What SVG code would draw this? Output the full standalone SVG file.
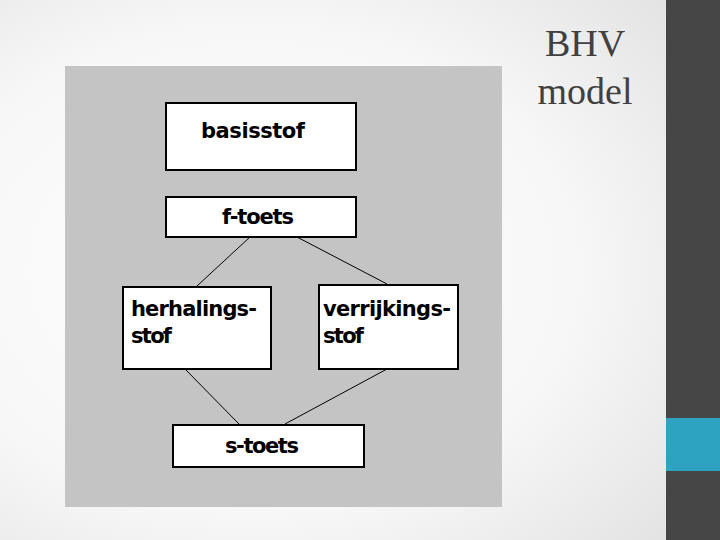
<svg xmlns="http://www.w3.org/2000/svg" width="720" height="540" viewBox="0 0 720 540">
<defs>
<radialGradient id="bg" cx="0.35" cy="0.5" r="0.75">
<stop offset="0" stop-color="#ffffff"/>
<stop offset="0.6" stop-color="#f7f7f7"/>
<stop offset="1" stop-color="#e4e4e4"/>
</radialGradient>
<style>
.box{fill:#ffffff;stroke:#000000;stroke-width:2}
.lbl{font-family:"DejaVu Sans","Liberation Sans",sans-serif;font-size:21px;font-weight:bold;fill:#000000}
.con{stroke:#000000;stroke-width:1;fill:none}
.title{font-family:"Liberation Serif",serif;font-size:38px;fill:#404040}
</style>
</defs>
<rect x="0" y="0" width="720" height="540" fill="url(#bg)"/>
<rect x="666" y="0" width="54" height="540" fill="#464646"/>
<rect x="666" y="418" width="54" height="53" fill="#2ea3c1"/>
<text class="title" x="585" y="56" text-anchor="middle">BHV</text>
<text class="title" x="585" y="104" text-anchor="middle">model</text>
<rect x="65" y="66" width="437" height="441" fill="#c4c4c4"/>
<g id="connectors">
<line class="con" x1="250" y1="237" x2="197" y2="286"/>
<line class="con" x1="297" y1="237" x2="387" y2="284"/>
<line class="con" x1="185" y1="369" x2="239" y2="424"/>
<line class="con" x1="387" y1="369" x2="285" y2="424"/>
</g>
<g id="basisstof">
<rect class="box" x="166" y="103" width="190" height="67"/>
<text class="lbl" x="201" y="138" textLength="104">basisstof</text>
</g>
<g id="f-toets">
<rect class="box" x="166" y="197" width="190" height="40"/>
<text class="lbl" x="222" y="224" textLength="72">f-toets</text>
</g>
<g id="herhalingsstof">
<rect class="box" x="123" y="287" width="148" height="82"/>
<text class="lbl" x="131" y="316" textLength="126">herhalings-</text>
<text class="lbl" x="131" y="343" textLength="41">stof</text>
</g>
<g id="verrijkingsstof">
<rect class="box" x="319" y="285" width="139" height="84"/>
<text class="lbl" x="323" y="316" textLength="128">verrijkings-</text>
<text class="lbl" x="323" y="343" textLength="41">stof</text>
</g>
<g id="s-toets">
<rect class="box" x="173" y="425" width="191" height="42"/>
<text class="lbl" x="225" y="453" textLength="74">s-toets</text>
</g>
</svg>
